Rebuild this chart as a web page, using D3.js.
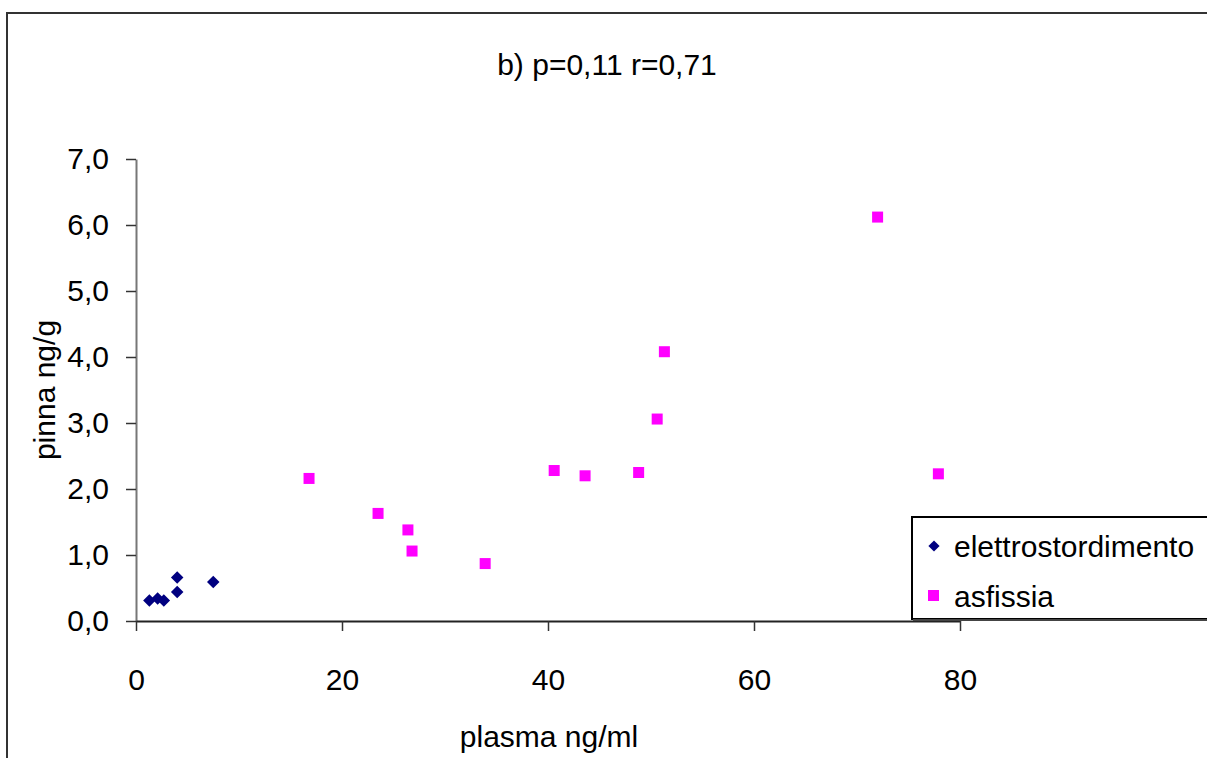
<!DOCTYPE html>
<html>
<head>
<meta charset="utf-8">
<script src="https://cdn.jsdelivr.net/npm/d3@7"></script>
<style>
  html, body { margin: 0; padding: 0; background: #fff; }
  svg { display: block; font-family: "Liberation Sans", Arial, sans-serif; }
</style>
</head>
<body>
<svg id="chart" width="1207" height="758"></svg>
<script>
// ---- Data ----
const titleText = "b) p=0,11 r=0,71";
const xLabel = "plasma ng/ml";
const yLabel = "pinna ng/g";
const seriesNames = ["elettrostordimento", "asfissia"];

const elettroX = [1.3, 2.1, 2.7, 4.0, 4.0, 7.5];
const elettroY = [0.31, 0.34, 0.31, 0.66, 0.44, 0.59];

const asfissiaX = [16.8, 23.5, 26.4, 26.8, 33.9, 40.6, 43.6, 48.8, 50.6, 51.3, 72.0, 77.9];
const asfissiaY = [2.16, 1.63, 1.38, 1.06, 0.87, 2.28, 2.20, 2.25, 3.06, 4.08, 6.12, 2.23];

const xTicks = [0, 20, 40, 60, 80];
const yTicks = [0, 1, 2, 3, 4, 5, 6, 7];

// ---- Layout ----
const svg = d3.select("#chart");
const plot = { left: 136, right: 960, top: 159, bottom: 621 };

const x = d3.scaleLinear().domain([0, 80]).range([plot.left, plot.right]);
const y = d3.scaleLinear().domain([0, 7]).range([plot.bottom, plot.top]);

const itLocale = d3.formatLocale({ decimal: ",", thousands: ".", grouping: [3], currency: ["", " €"] });
const fmtY = itLocale.format(".1f");

const FS = 30;

// outer border
svg.append("rect")
  .attr("x", 7).attr("y", 13).attr("width", 1300).attr("height", 800)
  .attr("fill", "none").attr("stroke", "#333").attr("stroke-width", 2);

// title
svg.append("text")
  .attr("x", 607).attr("y", 75)
  .attr("text-anchor", "middle")
  .attr("font-size", FS)
  .attr("fill", "#000")
  .text(titleText);

// y axis
const yAxis = d3.axisLeft(y).tickValues(yTicks).tickFormat(fmtY).tickSize(10).tickSizeOuter(0).tickPadding(17);
const gy = svg.append("g").attr("transform", `translate(${plot.left},0)`).call(yAxis);
gy.select(".domain").attr("stroke", "#777").attr("stroke-width", 2);
gy.selectAll(".tick line").attr("stroke", "#333").attr("stroke-width", 1.5);
gy.selectAll(".tick text").attr("font-size", FS).attr("fill", "#000").attr("font-family", "Liberation Sans, Arial, sans-serif");

// x axis
const xAxis = d3.axisBottom(x).tickValues(xTicks).tickFormat(d3.format("d")).tickSize(10).tickSizeOuter(0).tickPadding(38);
const gx = svg.append("g").attr("transform", `translate(0,${plot.bottom})`).call(xAxis);
gx.select(".domain").attr("stroke", "#222").attr("stroke-width", 2);
gx.selectAll(".tick line").attr("stroke", "#333").attr("stroke-width", 1.5);
gx.selectAll(".tick text").attr("font-size", FS).attr("fill", "#000").attr("font-family", "Liberation Sans, Arial, sans-serif");

// axis labels
svg.append("text")
  .attr("x", 549).attr("y", 747)
  .attr("text-anchor", "middle")
  .attr("font-size", FS)
  .text(xLabel);

svg.append("text")
  .attr("transform", `translate(55,390) rotate(-90)`)
  .attr("text-anchor", "middle")
  .attr("font-size", FS)
  .text(yLabel);

// points
const elettro = elettroX.map((v, i) => ({ x: v, y: elettroY[i] }));
const asfissia = asfissiaX.map((v, i) => ({ x: v, y: asfissiaY[i] }));

const diamond = d3.symbol().type(d3.symbolDiamond2).size(100);
svg.append("g").selectAll("path").data(elettro).join("path")
  .attr("d", diamond)
  .attr("transform", d => `translate(${x(d.x)},${y(d.y)})`)
  .attr("fill", "#000080");

svg.append("g").selectAll("rect").data(asfissia).join("rect")
  .attr("x", d => x(d.x) - 5.5).attr("y", d => y(d.y) - 5.5)
  .attr("width", 11).attr("height", 11)
  .attr("fill", "#FF00FF");

// legend
const lg = svg.append("g");
lg.append("rect")
  .attr("x", 912).attr("y", 517).attr("width", 320).attr("height", 102)
  .attr("fill", "#fff").attr("stroke", "#000").attr("stroke-width", 2);
lg.append("line")
  .attr("x1", 913).attr("x2", 1232).attr("y1", 620).attr("y2", 620)
  .attr("stroke", "#444").attr("stroke-width", 2);

lg.append("path")
  .attr("d", d3.symbol().type(d3.symbolDiamond2).size(80))
  .attr("transform", "translate(934,546)")
  .attr("fill", "#000080");
lg.append("text")
  .attr("x", 954).attr("y", 557)
  .attr("font-size", FS)
  .text(seriesNames[0]);

lg.append("rect")
  .attr("x", 928).attr("y", 590).attr("width", 11).attr("height", 11)
  .attr("fill", "#FF00FF");
lg.append("text")
  .attr("x", 954).attr("y", 607)
  .attr("font-size", FS)
  .text(seriesNames[1]);
</script>
</body>
</html>
